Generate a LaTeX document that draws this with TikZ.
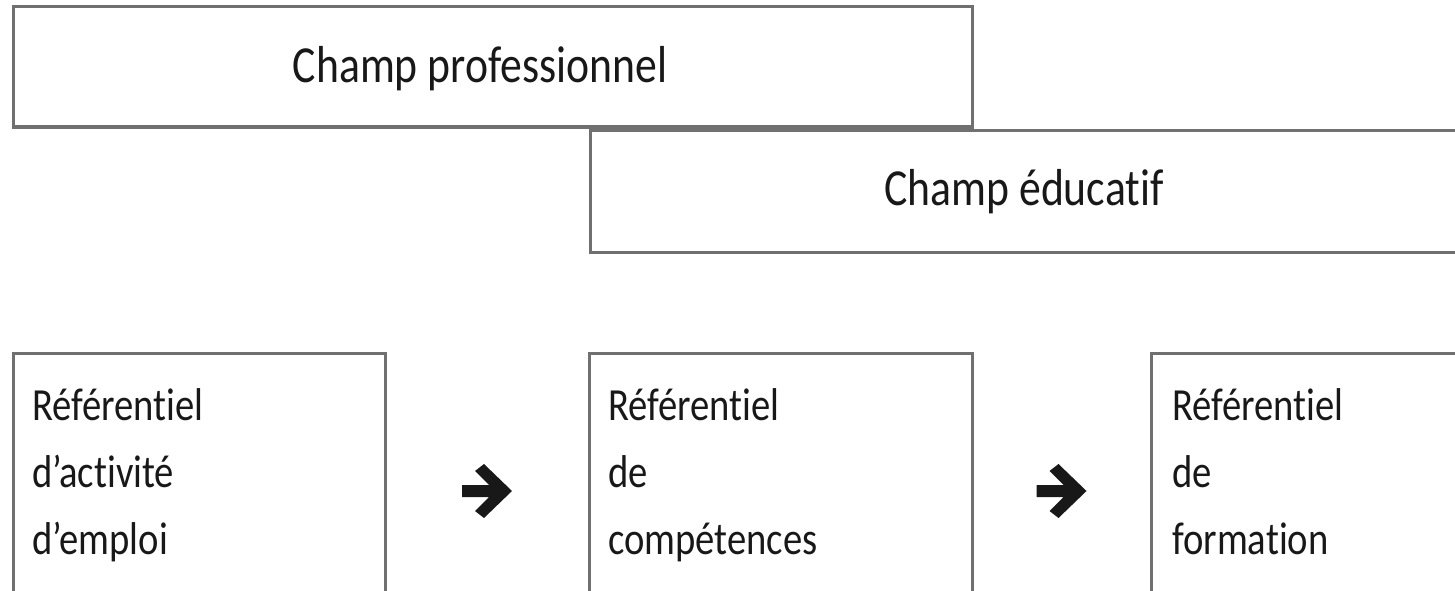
\documentclass[tikz,border=0pt]{standalone}
\usepackage{fontspec}
\setmainfont{Carlito}[FakeStretch=0.84, Ligatures={NoCommon}]
\usetikzlibrary{calc}
\definecolor{rule}{RGB}{112,112,112}
\definecolor{ink}{RGB}{24,24,24}
\tikzset{
  frame/.style={draw=rule, line width=3pt, fill=none, rectangle,
    inner sep=0pt, outer sep=0pt, anchor=north west},
  headtext/.style={text=ink, inner sep=0pt, anchor=base,
    font=\fontsize{52}{60}\selectfont},
  bodytext/.style={text=ink, inner sep=0pt, anchor=north west, align=left,
    font=\fontsize{46}{67}\selectfont},
  fatarrow/.pic={
    \fill[ink] (-25,-6) -- (2,-6) -- (-12,-20) -- (-3,-27) -- (25,0)
      -- (-3,27) -- (-12,20) -- (2,6) -- (-25,6) -- cycle;
  }
}
\begin{document}
\begin{tikzpicture}[x=1pt,y=-1pt]
  \useasboundingbox (0,0) rectangle (1455,591);
  \clip (0,0) rectangle (1455,591);

  % two overlapping fields
  \node[frame, minimum width=959pt, minimum height=120pt] (pro) at (13,7) {};
  \node[frame, minimum width=868pt, minimum height=122pt] (edu) at (590,130) {};
  \node[headtext] (proT) at (480,83) {Champ professionnel};
  \node[headtext] (eduT) at (1024,205) {Champ éducatif};

  % three reference frameworks
  \node[frame, minimum width=372pt, minimum height=276pt] (act) at (13,353) {};
  \node[frame, minimum width=383pt, minimum height=276pt] (comp) at (589,353) {};
  \node[frame, minimum width=309pt, minimum height=276pt] (form) at (1151,353) {};

  \node[bodytext] (actT) at ($(act.north west)+(19,35)$)
    {Référentiel\\d’activité\\d’emploi};
  \node[bodytext] (compT) at ($(comp.north west)+(19,35)$)
    {Référentiel\\de\\compétences};
  \node[bodytext] (formT) at ($(form.north west)+(21,35)$)
    {Référentiel\\de\\formation};

  % arrows between the frameworks
  \pic at ($(act.east)!0.5!(comp.west)$) {fatarrow};
  \pic at ($(comp.east)!0.5!(form.west)$) {fatarrow};
\end{tikzpicture}
\end{document}
